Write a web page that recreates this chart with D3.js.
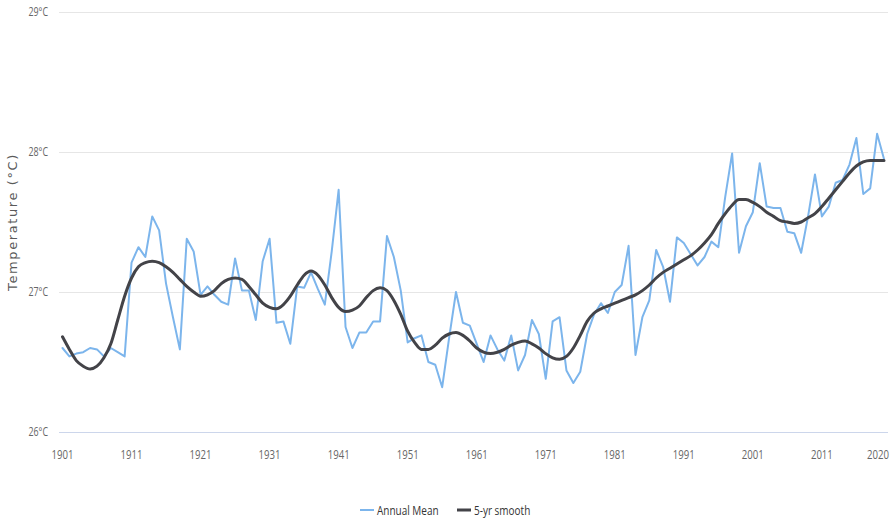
<!DOCTYPE html>
<html>
<head>
<meta charset="utf-8">
<script src="https://cdn.jsdelivr.net/npm/d3@7"></script>
<style>
  html, body { margin: 0; padding: 0; background: #ffffff; }
  svg { display: block; }
  .lbl { font-family: "Open Sans", "Noto Sans", "DejaVu Sans", sans-serif; }
</style>
</head>
<body>
<svg id="chart" width="892" height="524"></svg>
<script>
const firstYear = 1901;
const lastYear = 2020;
const years = d3.range(firstYear, lastYear + 1);

const annualMean = [
  26.60, 26.54, 26.56, 26.57, 26.60, 26.59, 26.54, 26.60, 26.57, 26.54,
  27.21, 27.32, 27.25, 27.54, 27.44, 27.06, 26.82, 26.59, 27.38, 27.29,
  26.98, 27.04, 26.98, 26.93, 26.91, 27.24, 27.01, 27.01, 26.80, 27.22,
  27.38, 26.78, 26.79, 26.63, 27.04, 27.03, 27.14, 27.02, 26.91, 27.29,
  27.73, 26.75, 26.60, 26.71, 26.71, 26.79, 26.79, 27.40, 27.25, 27.01,
  26.64, 26.67, 26.69, 26.50, 26.48, 26.32, 26.67, 27.00, 26.78, 26.76,
  26.63, 26.50, 26.69, 26.59, 26.51, 26.69, 26.44, 26.55, 26.80, 26.70,
  26.38, 26.79, 26.82, 26.44, 26.35, 26.43, 26.70, 26.84, 26.92, 26.85,
  27.00, 27.05, 27.33, 26.55, 26.82, 26.94, 27.30, 27.18, 26.93, 27.39,
  27.35, 27.27, 27.19, 27.25, 27.36, 27.32, 27.68, 27.99, 27.28, 27.47,
  27.57, 27.92, 27.61, 27.60, 27.60, 27.43, 27.42, 27.28, 27.54, 27.84,
  27.54, 27.61, 27.78, 27.80, 27.91, 28.10, 27.70, 27.74, 28.13, 27.95
];

const smooth5yr = [
  26.68, 26.59, 26.51, 26.47, 26.45, 26.47, 26.53, 26.63, 26.80, 26.97,
  27.10, 27.18, 27.21, 27.22, 27.21, 27.18, 27.14, 27.09, 27.04, 27.00,
  26.97, 26.98, 27.01, 27.06, 27.09, 27.10, 27.09, 27.04, 26.98, 26.92,
  26.89, 26.88, 26.91, 26.97, 27.05, 27.12, 27.15, 27.12, 27.05, 26.96,
  26.89, 26.86, 26.87, 26.90, 26.96, 27.01, 27.03, 27.01, 26.94, 26.84,
  26.72, 26.64, 26.59, 26.59, 26.62, 26.67, 26.70, 26.71, 26.69, 26.65,
  26.60, 26.57, 26.56, 26.57, 26.59, 26.62, 26.64, 26.65, 26.63, 26.60,
  26.56, 26.53, 26.52, 26.54, 26.60, 26.69, 26.79, 26.85, 26.88, 26.90,
  26.92, 26.94, 26.96, 26.98, 27.01, 27.05, 27.10, 27.14, 27.17, 27.20,
  27.23, 27.26, 27.30, 27.35, 27.41, 27.49, 27.56, 27.62, 27.66, 27.66,
  27.64, 27.61, 27.57, 27.54, 27.51, 27.50, 27.49, 27.50, 27.53, 27.56,
  27.61, 27.67, 27.73, 27.79, 27.85, 27.90, 27.93, 27.94, 27.94, 27.94
];

const xTicks = [1901, 1911, 1921, 1931, 1941, 1951, 1961, 1971, 1981, 1991, 2001, 2011, 2020];
const yTicks = [26, 27, 28, 29];
const seriesNames = ["Annual Mean", "5-yr smooth"];
const seriesColors = ["#7cb5ec", "#434348"];
const yTitle = "Temperature (°C)";

const svg = d3.select("#chart");
const W = 892;
const plotLeft = 59, plotRight = 888;
const narrow = 0.74;

const x = d3.scaleLinear().domain([firstYear, lastYear]).range([62.5, 884]);
const y = d3.scaleLinear().domain([26, 29]).range([432, 12]);

// condensed text helper: anchor point (px,py), horizontally squeezed
function narrowText(parent, px, py, str, opts) {
  const g = parent.append("g").attr("transform", `translate(${px},${py}) scale(${narrow},1)`);
  const t = g.append("text")
    .attr("class", "lbl")
    .attr("x", 0).attr("y", 0)
    .attr("text-anchor", opts.anchor || "start")
    .attr("font-size", opts.size)
    .attr("fill", opts.fill)
    .text(str);
  return { g, t };
}

// gridlines
svg.append("g").selectAll("line").data(yTicks.filter(d => d !== 26)).join("line")
  .attr("x1", plotLeft).attr("x2", plotRight)
  .attr("y1", d => Math.round(y(d)) + 0.5).attr("y2", d => Math.round(y(d)) + 0.5)
  .attr("stroke", "#e6e6e6").attr("stroke-width", 1);

// x axis line
svg.append("line")
  .attr("x1", plotLeft).attr("x2", plotRight)
  .attr("y1", Math.round(y(26)) + 0.5).attr("y2", Math.round(y(26)) + 0.5)
  .attr("stroke", "#ccd6eb").attr("stroke-width", 1);

// y labels
const yAxisG = svg.append("g");
yTicks.forEach(d => {
  narrowText(yAxisG, 48, y(d) + 4, d + "°C", { anchor: "end", size: 12, fill: "#666666" });
});

// x labels
const xAxisG = svg.append("g");
xTicks.forEach(d => {
  const o = narrowText(xAxisG, x(d), 459, String(d), { anchor: "middle", size: 13, fill: "#666666" });
  const bb = o.t.node().getBBox();
  const right = x(d) + (bb.x + bb.width) * narrow;
  if (right > W - 3) {
    o.g.attr("transform", `translate(${x(d) - (right - (W - 3))},459) scale(${narrow},1)`);
  }
});

// y title
svg.append("text")
  .attr("transform", `translate(17,${(y(26) + y(29)) / 2}) rotate(-90)`)
  .attr("text-anchor", "middle")
  .attr("font-family", "DejaVu Sans, sans-serif")
  .attr("font-size", 13)
  .attr("letter-spacing", 1.6)
  .attr("fill", "#5a5a5a")
  .text(yTitle);

// lines
const lineAnnual = d3.line().x((d, i) => x(years[i])).y(d => y(d));
const lineSmooth = d3.line().x((d, i) => x(years[i])).y(d => y(d)).curve(d3.curveMonotoneX);

svg.append("path").datum(annualMean)
  .attr("d", lineAnnual).attr("fill", "none")
  .attr("stroke", seriesColors[0]).attr("stroke-width", 2)
  .attr("stroke-linejoin", "round").attr("stroke-linecap", "round");

svg.append("path").datum(smooth5yr)
  .attr("d", lineSmooth).attr("fill", "none")
  .attr("stroke", seriesColors[1]).attr("stroke-width", 3)
  .attr("stroke-linejoin", "round").attr("stroke-linecap", "round");

// legend
const legend = svg.append("g");
const legendY = 510;
const legendItems = [
  { name: seriesNames[0], color: seriesColors[0], sx: 360, w: 2 },
  { name: seriesNames[1], color: seriesColors[1], sx: 457, w: 3 }
];
legendItems.forEach(it => {
  legend.append("line")
    .attr("x1", it.sx).attr("x2", it.sx + 14)
    .attr("y1", legendY).attr("y2", legendY)
    .attr("stroke", it.color).attr("stroke-width", it.w);
  narrowText(legend, it.sx + 17, legendY + 5, it.name, { anchor: "start", size: 13.5, fill: "#333333" });
});
</script>
</body>
</html>
